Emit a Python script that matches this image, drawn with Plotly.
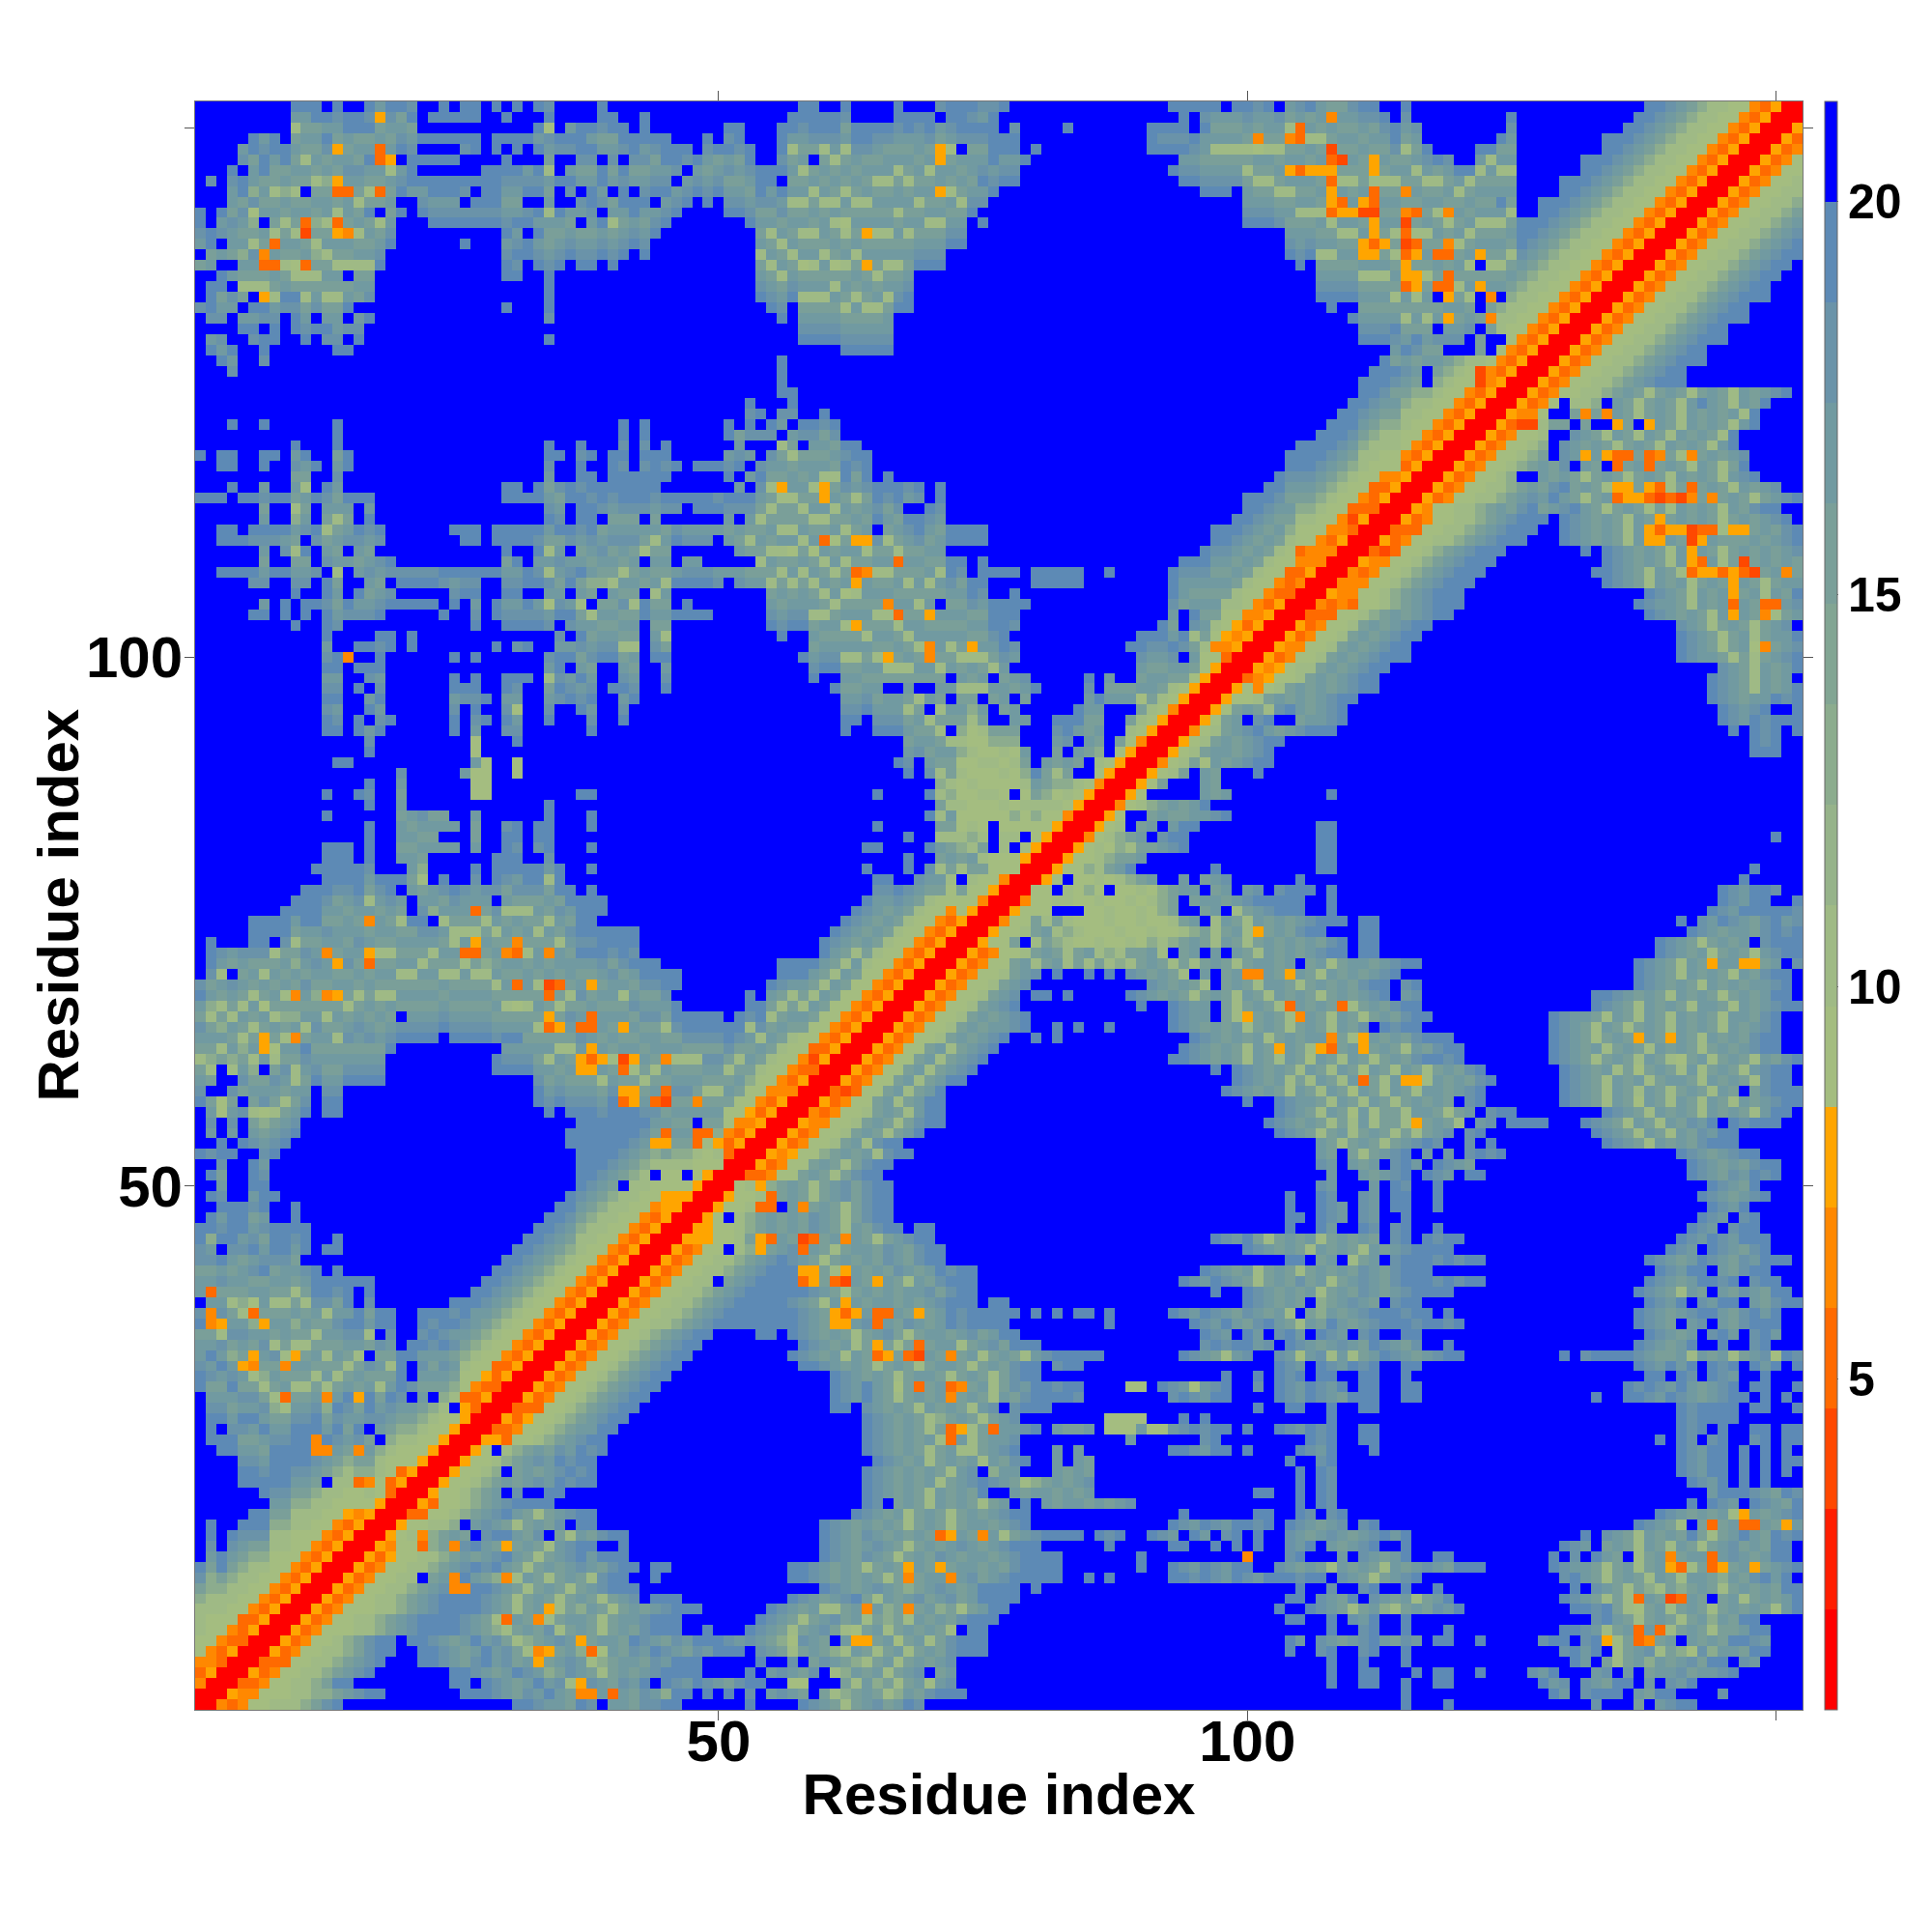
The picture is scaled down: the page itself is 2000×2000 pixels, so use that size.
import plotly.graph_objects as go

# distance bands, low to high
BAND_COLORS = ["#ff0000", "#ff1e00", "#ff4800", "#ff6a00", "#ff8800", "#ffa500",
               "#a4bd80", "#9fba85", "#96b38a", "#8cac8e", "#82a593", "#7a9f99",
               "#719aa1", "#6a93a9", "#5d8ab5", "#0000ff"]
# value of each code used in ROWS
CODE_VALUES = {"a": 1.43, "b": 2.71, "c": 3.99, "d": 5.27, "e": 6.55, "f": 7.83,
               "g": 9.11, "h": 10.39, "i": 12.96, "j": 15.52, "k": 16.80, "l": 18.08,
               "m": 19.36, "n": 19.36, "o": 19.36, ".": 20.64}
BLUE_VALUE = 20.64
Z_MIN = 0.785
Z_MAX = 21.28
TICK_VALUES = [50, 100, 150]
TICK_TEXT = ["50", "100", ""]
BAR_TICKS = [5, 10, 15, 20]
N_RES = 152

# the map is symmetric, so only the part right of the diagonal is kept
# row -> "first_column:codes", anything not listed is the top (blue) band
ROWS = {
0: "0:aaedegghhhijlm 30:nmlkkjml 39:kkjllmn 52:n 57:mlkjhjkl 65:jkml 114:n 118:m 132:l 136:j 138:klmn",
1: "1:aafeeggghhiijklmn 25:nmmlkjlkmkjhjkikjlkimn 36:ee 39:d 48:m 50:m 52:l 54:klk 57:j 59:jhijkjhikjlmnn 114:n 128:mk 131:lmmn 136:kjmn 144:l",
2: "2:aaddegghhijmn 24:mn 27:mlkjkmklhjlkjlkm 36:f 44:mlkmlkjl 52:mm 56:gg 61:jhkijhjkhkl 107:m 110:mn 114:n 117:mn 127:mkl 131:lkjmn 137:k 139:lkm",
3: "3:aafdegghhijkln 24:nmlkjkmlkijlkjhjkjklmnmn 52:m 54:klkjl 60:hikjkhjkl 70:jk 107:m 110:mm 115:n 117:mn 121:n 126:lkm 132:kl 135:k 137:jkkljkklm",
4: "4:aadddgghhijkln 21:nmlkjlmkljkfjklkhijkkjlkmmn 53:m 56:l 58:jlkjihjkhjkjkl 107:m 110:m 114:n 130:mk 133:jhjkikjkljmn 146:lk",
5: "5:aafdegghhijlmn 21:nmlkjkmkljhefjkidgkjlkmlkjlkmmn 53:lkjhjkjihkjhjkhjkjlmmn 103:m 106:lm 110:lm 114:m 129:lmkm 134:hjklhjiglikkjmn",
6: "6:aafdegghijlmn 20:nmlkjkmkljhijklkfjkkjmlkjlkmmnlk 52:lkjiglkjhkfhjkgjkhjlmmn 60:. 63:f 103:mk 106:lkjklmkjlk 117:mn 121:m 127:lmn 131:lmkhjghjkikjkjmnlk 133:f 136:d 137:e 140:.",
7: "7:aafdeggghhijklmnnmlkjihjkjlhjkjhjkjlmmn 48:m 52:mlkjhjkljhgjkhjkjkjhjmn 72:. 107:m 110:lm 114:m 118:m 129:nmlkhjkikdhjkjhjjkmn 136:d",
8: "8:aafdegghhijklmnnmlkjhjkjlhjkkjhjkklmmn 29:d 32:e 53:mlkjhjkljkhjijhkjkjlmmn 103:mm 107:m 109:lkm 114:m 132:lmkjhjkjhjkikjmn",
9: "9:aafdeggghhijklmnnmlkjhjkjhjikjhjkjklmmn 33:f 54:mlkjkhhjkjkijkjkijhjkmn 63:e 67:e 102:m 105:mlkjhjkihjkjlkm 130:mm 132:lm 134:jhgjkhjkjhjkjkjhkm",
10: "10:aafdegghhijklmnnmlkjhjkjhjkjhjklmmnm 42:. 56:mlkjklmjhkjkljkljkmmnn 103:mm 106:lkjm 111:lkjkhjkm 129:mlkjhjhjkjjkkjkjkhjkjkm 136:d 139:c 140:d 143:.",
11: "11:aafdegghhijklmnnmlkjhjkjhjklmmn 24:ee 59:mlkjklkjijklkjkmmnm 79:n 104:m 107:l 110:lm 114:m 117:m 130:m 132:lkjhjihjijkjhjkjkjmn",
12: "12:aafdegghhijklmkjijhkjhjkjhlmn 21:. 24:e 29:e 43:n 56:mmlkjkjkjhjjjkkjkljklmmnn 67:e 71:e 81:n 84:m 86:m 92:mmlmlkmlkm 102:mmlmn 108:lkjhjklm 129:lmkjhjkjhkjhkkjikjlmkm",
13: "13:aafdegghhijklmlmkjhjkjklkjlmn 43:mn 56:mmlkjkjhjkjkkjkjkkjkjlmmnn 67:f 70:f 89:m 92:mlkmlkml 99:m 102:lkjkjhkjkjhkjklkjmnm 128:mlkkjhjkhjkkjhjkkjkhjklm 139:f 140:d 143:d 144:f 147:f",
14: "14:aafdfgghhijkjklmkjhjklmkmmn 59:mlkjlkjhjkjlkjkkjklmmn 81:m 89:m 99:e 103:lm 108:k 110:lkjkm 117:mn 128:m 130:l 132:mkj 136:hjkhjkkjklkjkmn 139:e 143:d",
15: "15:aafegghijklmkjhjkjhklmn 21:d 24:e 29:f 40:n 59:mlkjklkjhjkjklkjklmnn 86:m 92:mm 96:m 98:m 100:m 103:lkm 107:kjklm 114:m 129:mlk 133:jkjhkjhkjhjkljkjmn",
16: "16:aafghhijkjklmnkjlkjhkjlmn 21:e 26:. 33:. 59:mlkjlkjkjkjhjkjkkhjklmmnn 70:d 71:f 74:e 85:mlm 90:mlk 94:mk 97:lm 100:m 103:lkjklkjklmkm 131:m 133:lkjhkjkjm 142:jhjkm 147:kjmlm",
17: "17:aafgghhijklkjhjkjlkmn 25:. 35:. 59:mlkjkjkjhjkjhjkkjkln 92:mlkmlkm 99:mlm 103:mlkjkl 110:lm 136:mlkjh 142:jhjkjjkjfkh 143:d 146:dd 150:f",
18: "18:aaddgghijklmkjhjklmn 62:mlkjkhjkjhjkjklmm 93:n 100:mn 104:ml 107:lm 138:mlkj 142:kjkhfkj 149:klm",
19: "19:aafdgghijklmnmn 63:mlkjkjhkjkjhjk.m.kjkkjkjkl 65:. 104:m 106:ml 141:m 143:mlk 147:mlkjm",
20: "20:aafgghijk.lm 31:.. 33:mn 63:mlkjkjhkjkjm 77:kjkkjkjk 100:mn 104:m 106:ml 143:kmm 146:mlkjm 151:l",
21: "21:aafgghijkjklkmlmn 63:mlkjkjkhjklm 75:lkjhijkjkl 104:m 106:ml 141:mlkm 146:m 148:m",
22: "22:aafgghi.jkjklmln 63:mlkjkjkjhkl.ikk 81:kjkj 104:m 106:ml 140:mlkmn 146:m 148:m 150:m",
23: "23:aafgghijklkmlmn 64:mlkjkhjkjkhkjlm 81:k 83:kj 103:m 106:lm 140:mlkmn 146:m 148:m 150:mm",
24: "24:aafg.hijkjlkmln 63:mlkjkjhjkhhjklm 81:k 83:k 92:mmlkmm 99:m 104:mlkm 111:m 140:mlkmn 146:m 148:m 150:m",
25: "25:aaffdgghijklmn 63:mlkjkjkhjkhjkkl 71:d 88:k 95:lm 105:mlm 110:mm 138:m 140:ml 143:lm 147:lm 150:mm",
26: "26:aaddegghijkkmn 63:mlkjkjhjkkhjkkklm 71:d 72:f 75:d 81:kjjk 86:gggkggk 93:lmlmn 99:m 102:mlkmln 110:mm 140:mlm 144:m 147:mm 150:mm",
27: "27:aafdfgghijklmn 63:mlkjkjhijkjhjkl 86:gggg 93:m 95:m 107:m 140:mlmnmn",
28: "28:aadddgghijklmn 60:mm 63:lkjkjhkjkjhkl 77:lmmn 100:m 103:mm 107:m 110:mm 140:mlmnmn 147:mm 151:m",
29: "29:aafdegghijklmn 60:mlkmkjhjkjkgjkjhkjlmnmnl 71:e 92:lmlkmn 102:mlkmlkjn 110:mm 114:mm 132:m 135:mmlkmlkjklmn 148:m 150:m",
30: "30:aafdegghijklmn 60:mlkmkjgjkjkkkjkhjlkmnlmn 68:d 71:d 72:e 88:gg 91:mlkgklm 100:l 102:mlkmlkm 110:mm 114:mm 135:mlmlkmkjklm 147:mm 151:m",
31: "31:aafdegghijklmn 60:mlkjkjhjkkjhjkjhjlmn 97:m 100:m 102:mlm 106:mm 110:mm 114:m 137:mm 140:ml 143:mlk 148:m",
32: "32:aafdegghijklmn 57:nmlkjkjhjkjhjkkjhjkjlmn 81:lmm 102:mlk 106:mlkmln 114:mm 136:mlk 139:mkm 143:mln 147:mkm 151:m",
33: "33:aafdegghijklmn 56:mlkjkhkjhkjhjkjhjkhjkjhklmnmmn 64:d 65:f 67:d 68:c 71:e 93:mlkjhkl 102:lkgklhkhjkmlkjklmn 129:m 131:lmnmmlkjjkhkjkhjklgmlkm",
34: "34:aafdegghijklmn 57:mlkjkhjkjhjkjkkhjkljmnm 64:f 68:d 95:lmln 99:mkl 103:mlkjklkjmlkjl 118:m 136:mlkjkm 144:m 147:lm",
35: "35:aafdegghijklmn 53:mm 56:mlkjkjhjkljhjkkjkljkmn 95:mlk 99:mk 102:lmk 106:mlk 110:lm 114:mn 137:mlkjk 143:lmk 147:lmk",
36: "36:aafdegghhijklmnnooonmlkjhjkljkjlkjkmlmnnn 60:f 61:f 64:d 86:n 94:mlkmkjlmkjhkjmkjklmnmlm 117:mln 136:mlkj.kl.kjlmnm",
37: "37:aafdegghhijklmnooonmlkjhkjkjlkjkjkmlmnnmm 60:f 61:d 62:f 64:d 65:d 68:f 79:n 81:n 83:mn 86:m 92:mlkmlkjlkjkh.jikjklmnmlmn 118:m 136:mlkjklmnkjlmkm",
38: "38:aafdegghhijklmnnomlkjhkjkjkkjkjklmnn 61:f 75:mn 99:mlkjkj.ijklkj.lmn 137:mlkm.lkmn.kjlmm",
39: "39:aafdegghhijklmnoonmlkjhjkjkjkkljlmn. 96:m 99:mlkjkjkhjkjlkjklmn 117:mm 136:mlkjhkj.kjlkjmn",
40: "40:aafdegghhijklmnomlkjhjkjlkjhkjlmno 49:. 57:d 58:f 60:d 61:c 64:f 93:mlkmlkjhjkjljkhjklkjlmnm 117:lmlmn 137:mlkjkmmlm.lmn",
41: "41:aafdegghhijklmnmlkjhjkjkjlkjkmlno 57:ff 61:f 95:mlkjkhjkjhjkjkjlkjlmnm 138:mlkmn.kjlmn",
42: "42:aafdegghhijklmlkjhjkjkjlkjlmn 103:mm.jk.hjk.lmnm 117:lmlmn 137:mlkjkmlkjlkmmn",
43: "43:aafdegg.hifjkldkjhjkkjlkjlmn 50:. 99:mlkjkjhkjkjhkjklmn 117:mm 139:mlk.mlkjlm",
44: "44:aafffgghjfdkjcdjkekjhjklmn 96:mlkmjhjkjkhjkjkj.lm.m 117:lmm 140:mlkmlkmmn",
45: "45:aaffgghijkjkjlkjhkjlmn 68:mn 103:m 106:mk 110:ml 113:lm 117:m 141:mlk.lmn",
46: "46:aafg.hijkjkjlkjhjlmn 103:mm 106:mlk 110:lk 114:m 142:mlk.lm",
47: "47:aafgghdd.kejkjhjlmn 103:m 106:mlk 110:lk 113:mn 117:m 143:mlkm",
48: "48:aafgghdjkjhjkljlmn 103:m 106:ml 110:lk 113:mn 117:m 142:mlkjklm",
49: "49:aaghfijkjhjkljlmn 106:lk 111:k 113:ml 117:m 143:mlkjm",
50: "50:aaddeggjkjhjlmn 107:k 110:kjk 113:lm 116:mlk 120:mn 141:mlkjlkmln",
51: "51:aafdeggjkjhjlmn 106:lk 109:kjk 113:lmk 117:mlkj 141:mlkjkjlmn",
52: "52:aafefggijkjkhlmn 106:kj 109:jhjklm 116:k 118:k 120:lmln 140:mlkjklmn",
53: "53:aafdegghjkhlmn 106:kjhjkjhjklml 119:. 120:l 122:m 133:mlkjhkjkjlmmn",
54: "54:aafdegghjkjhjkn 102:mlkjhjkhjkjhjhjkl 119:. 120:lm 132:mlkjhkjhkjlkmn",
55: "55:aafeegghjkjhjlmn 101:mlkjkjhjhkhjjhfjkjh.kl 124:mnnn 131:mlkjhkjhkjlkmnmlmnn 144:.",
56: "56:aaedegghjkjhkmn 102:mlkjhkjgkhjjhkkjhjk.lmn 133:mlkjhkjkjhkjkjhkmn",
57: "57:aafdeggjkhjkmn 99:m 102:mlkkjhkjhkjhjkjkj 120:lm 129:mlkjhkjgkjhkjhkjhkjklmn",
58: "58:aadcdggjkhjkn 97:mlkjkjhkjhkjgkjhkjhkkjkl 120:lm 129:mlkjhkjhkjhjkjhkjkjlmnm 146:.",
59: "59:aafdeggjkhjkmn 98:mlkjkhjhkjhkdjhkffhkjkjlm 129:mlkjhkjkhjkkjhkjkjhlmn",
60: "60:aafdeggjkhjklm 96:m 98:mlkjkjhkjhkjgkjhkjhjkjlm 129:mlkjkhjgjkjhkhjkjhklmn",
61: "61:aafdeggjkhjkln 92:mmlkjkjhkjhkjgkjhkjhjkjlmmlm 128:mlkjhjkjhkjhgjkhjkjhkjlm",
62: "62:aafdeggjkhjkln 93:mlkjkjhkjfkjhfdjkfjkjhkjlmn 128:mlkjkhjkjhkjkjhjkjklmn",
63: "63:aafdegghjkjkln 79:n 81:n 94:mlkjkjkhjkjkkdjhjkjkjlmnm 128:mlkjhjkjfkjfkjhkjkjlmn 107:e 110:f",
64: "64:aafdegghjkjkkln 81:n 83:n 86:n 92:mlkjkjkhjkjhjkjhkjl.mlmn 128:mlkjhkjhjkjhkjkjhkjklm",
65: "65:aafdegghjkjklm 92:mlkk 97:jhfjkjhekjhkjhjkjlmn 128:mlkkjhkjhkjhkjkjhkkjlm",
66: "66:aafdegghjklm 89:n 92:mlkk 97:jhjkjhdkjkjdhjkjlmn 132:mlkjhkjkjhkkjhkjklmn",
67: "67:aafdegghjkl 79:mn 82:n 88:mlkjkjhjkjhkjhkjkjhjkjklm.kl 132:nmlkjkjhkjkjhjkjkmn",
68: "68:aafdegghjkl 90:lkjkjh 97:jkjhkkjhjkjkjlmm.lm 136:mlkjkjhkjkjkkln",
69: "69:aafdegghjkl 81:m 84:m 86:m 88:lkjkjh 95:k 97:jkeekjfkjhkjkjkln 136:mlkjhkjkjhkjlmn",
70: "70:aafdeggjkhjkhjhjhihjkjhjhjkjhjkkjk.jkhjkkjklmn 136:mlkjhkjfkkffjk.l",
71: "71:aafdegghjkjhjk 85:hihjjkh 93:jk 96:k 98:kjhkjkjklmn 110:mn 138:mlkjkhjkjhklmn",
72: "72:aafggj 79:hjihgghgghgihijkjhkjhjkjkjkjlm 110:mn 138:mlkjhjkjk.lmnn",
73: "73:aafgghjkhihggghgghgghijhjkhkjkjlmn 100:f 110:mn 141:mlkjkkjlmln",
74: "74:aaeggjhjhggghgghgghi 93:jk 96:hkjhkjkjklmnm 110:mn 140:m.lkmlkjlmkl",
75: "75:aafggg 84:gghgghgi 92:j 95:jk 98:hjklmnm 107:n 143:mlkmmnnml",
76: "76:aaeggh 82:hgghgghghij 94:jkkjklmmnmn 107:n 144:mlkmn 151:m",
77: "77:aagg 82:hgig 87:gghgijkk 96:jk 99:kl 102:lmnm 107:n 144:mlkmnl",
78: "78:aafg 83:gghghijk 93:k 95:jkl 104:n 146:m",
79: "79:aafggihjk 88:m 96:m 106:mn 147:m",
80: "80:aafgghijjk 106:mn",
81: "81:aafg. 85:hgihjjklm 106:mn",
82: "82:aaeghi 88:jk 91:lmn 106:mn 149:m",
83: "83:aafgh 89:jk 92:kmm 106:mn",
84: "84:aafg 90:jkjjkklm",
85: "85:aaeghijkjkn",
86: "86:aafg 95:kjk 107:n",
87: "87:aafgj 95:kj",
88: "88:aafghj 95:kj 100:m",
89: "89:aaeghjgkjklmn",
90: "90:aafghjk 97:kjklm 147:mnn",
91: "91:aafghjkjkl 101:mn 147:mlm",
92: "92:aaeghjk 99:lmkjklmn 106:mn 145:m 147:mlm 151:m",
93: "93:aafgjk 100:lm 104:jkklm 144:mlkmln 150:mm",
94: "94:aafgjkjhlm 104:kjklm 144:mlkln 151:m",
95: "95:aafgghjkjkjklmn 143:mlkjkkmln",
96: "96:aafgeghjkjkjklmn 143:mlkjhkjkm",
97: "97:aadefgghjkjklmn 143:mlkjhkjk",
98: "98:aafefghhjkjklmn 144:lkjhkjkm",
99: "99:aafdegghjkjklmnn 140:mlkkjhjhjklm",
100: "100:aafeegghjkjklmn 140:mlkjhjkgejklm",
101: "101:aafdegghjkjklmn 140:mlkjhjkhjkkm",
102: "102:aafdegghjkjklmn 140:lkjhjkjhjkl",
103: "103:aadddgghijkjklmn 137:mlkjkjhkfkjehjkl",
104: "104:aaededgghijklmno 136:mlkkjhkjkdkjddkl",
105: "105:aafeegghijklmno 137:mlkjhkjkfjkhkjm",
106: "106:aaeeegghijklmno 133:mlkjhkjkhjkjfkjhjkkjm",
107: "107:aaedegghijklmno 132:nmlkjhkjhfdddfdcjkejkjl 141:d 142:f 143:f 144:d",
108: "108:aafeegghijklmno 133:mlkjkjhkdfkhjcjkjkjk 141:f 142:d",
109: "109:aadcdgghijklmno 131:n 133:mlkjkjhkfkjhjkjkjkl",
110: "110:aafdegghhijklmno 129:mlkjkjhkffkjkckjfjkjklm 137:f 138:f 141:c 142:f 145:j",
111: "111:aadddgghhijklmno 129:mlkjkjhkfdfffcdhkfjkjlm 137:f 138:d 139:f 140:f 141:c 142:d 145:f",
112: "112:aafdegghhijklmno 129:mlkjkjhkjfjkjkjhjkjklm",
113: "113:aafegghhijkjlmjklmkjhjkjhjhkjkjhkjlmn",
114: "114:aafdegghhijklkmkjhjkjdfhjdckjejkjhjklm 134:d 135:f 137:d 138:c 141:e",
115: "115:aafdegghhijkjlmjkjhjkjffhjdjkjhkjkl 134:f 135:f 138:d",
116: "116:aafdegghij.kjkjhjkjhjkjhkjkjhklm 125:.",
117: "117:aafdegghijkjlmkj.hjkdjkjhkjhjm 130:. 134:d",
118: "118:aafdegghij.lkjkfjkjddjhejkjkl 128:. 131:f 134:d 135:d 138:e",
119: "119:aafdegghi.lkjkjhjkjhkjkjhkm 128:.",
120: "120:aafdegghi.lkjhkjhkjhkjkjhm 128:.",
121: "121:aafdcgh.jkjh.kj.fkjhkjkjhkm 128:j 130:. 132:. 126:c 134:f",
122: "122:aafeegh.jkjekjhjkjhkjkjkhm 126:e 128:. 131:e",
123: "123:aafdegghhi.kjhjkjhkjkjhkjm 129:. 142:m",
124: "124:aafdegghhijkjhjkjhjkjhkjklm",
125: "125:aafdegghhijklmno",
126: "126:aafdegghhijklmn",
127: "127:aafdegghhijklmno",
128: "128:aafdegghhijklmn",
129: "129:aafdegghhijklmno",
130: "130:aafdegghhijklmn",
131: "131:aafdegghhijklmno",
132: "132:aafdegghhijklmn",
133: "133:aafdegghhijklmno",
134: "134:aafdegghhijklmn",
135: "135:aafdegghhijklmn",
136: "136:aafdegghhijklmn",
137: "137:aafdegghhijklmn",
138: "138:aafdegghhijklm",
139: "139:aafdegghhijkl",
140: "140:aafdegghhijk",
141: "141:aafdegghhij",
142: "142:aafdegghhi",
143: "143:aafdegghh",
144: "144:aafdeggh",
145: "145:aafdegg",
146: "146:aafdeg",
147: "147:aafde",
148: "148:aafd",
149: "149:aaf",
150: "150:aa",
151: "151:a",
}

# start everything at the top band, then fill from the rows above
z = [[BLUE_VALUE] * N_RES for _ in range(N_RES)]
for row, text in ROWS.items():
    for part in text.split():
        start, codes = part.split(":")
        for k, code in enumerate(codes):
            col = int(start) + k
            if col < N_RES:
                z[row][col] = CODE_VALUES[code]
                z[col][row] = CODE_VALUES[code]

residues = list(range(1, N_RES + 1))

# stepped colour scale, one flat piece per band
n_bands = len(BAND_COLORS)
colorscale = []
for i, color in enumerate(BAND_COLORS):
    colorscale.append([i / n_bands, color])
    colorscale.append([(i + 1) / n_bands, color])

label_font = dict(family="Liberation Sans", size=60, color="black", weight="bold")

fig = go.Figure(go.Heatmap(
    x=residues,
    y=residues,
    z=z,
    zmin=Z_MIN,
    zmax=Z_MAX,
    colorscale=colorscale,
    colorbar=dict(
        x=1.0138, xanchor="left", xpad=0, ypad=0,
        thickness=13, len=1,
        outlinewidth=1, outlinecolor="#666666",
        tickvals=BAR_TICKS, ticks="outside", ticklen=1, tickcolor="#666666",
        tickfont=dict(family="Liberation Sans", size=50, color="black", weight="bold"),
    ),
))

axis_style = dict(
    range=[0.5, 152.5],
    tickmode="array",
    tickvals=TICK_VALUES,
    ticktext=TICK_TEXT,
    ticks="outside",
    ticklen=10,
    tickcolor="#555555",
    showline=True,
    linecolor="#777777",
    linewidth=1,
    mirror="ticks",
    showgrid=False,
    zeroline=False,
    tickfont=label_font,
)
fig.update_xaxes(axis_style, ticklabelstandoff=-30, title=dict(text="Residue index", font=label_font, standoff=0))
fig.update_yaxes(axis_style, ticklabelstandoff=-10)
# y title sits closer to the labels than the axis title allows
fig.add_annotation(
    text="Residue index", font=label_font, textangle=-90, showarrow=False,
    xref="paper", yref="paper", x=-0.0853, y=0.5, xanchor="center", yanchor="middle",
)
# the page body adds 8 px on the left and top
fig.update_layout(
    width=2000,
    height=2000,
    margin=dict(l=194, r=142, t=97, b=238),
    paper_bgcolor="white",
    plot_bgcolor="white",
)

fig.write_html("out.html")
